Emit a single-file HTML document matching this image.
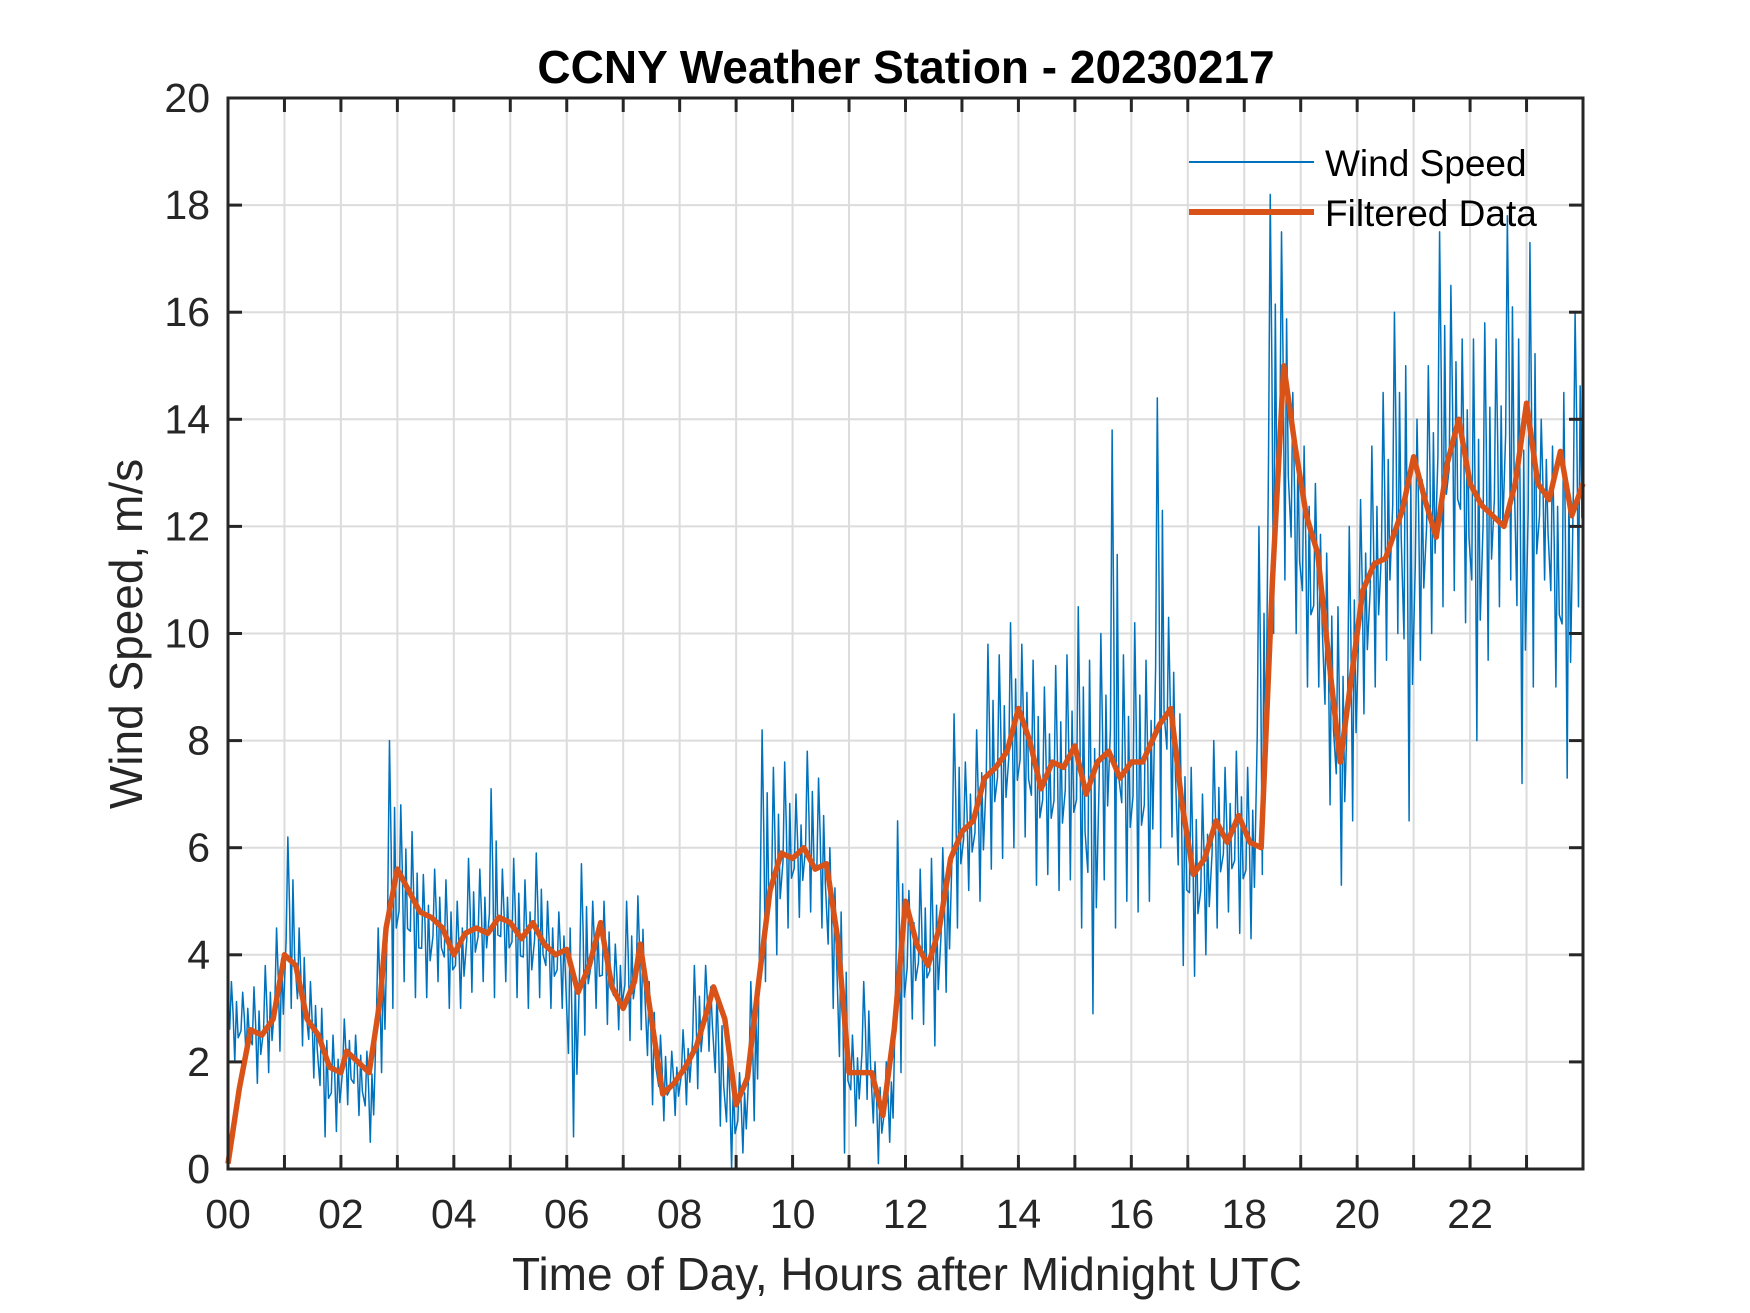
<!DOCTYPE html>
<html><head><meta charset="utf-8"><style>
html,body{margin:0;padding:0;background:#fff}
svg{display:block}
text{font-family:"Liberation Sans",Arial,sans-serif;fill:#262626}
</style></head><body>
<svg id="chart" width="1750" height="1313" viewBox="0 0 1750 1313" xmlns="http://www.w3.org/2000/svg">
<rect width="1750" height="1313" fill="#fff"/>
<g id="grid"></g>
<g id="series"></g>
<g id="axes"></g>
<text x="906" y="83" text-anchor="middle" font-size="46" font-weight="bold" style="fill:#000">CCNY Weather Station - 20230217</text>
<text x="907" y="1290" text-anchor="middle" font-size="46">Time of Day, Hours after Midnight UTC</text>
<text transform="translate(142,634) rotate(-90)" text-anchor="middle" font-size="46">Wind Speed, m/s</text>
<g>
<line x1="1189" y1="162" x2="1314" y2="162" stroke="#0072BD" stroke-width="2"/>
<text x="1325" y="176" font-size="37" style="fill:#000">Wind Speed</text>
<line x1="1189" y1="212" x2="1314" y2="212" stroke="#D95319" stroke-width="6"/>
<text x="1325" y="226" font-size="37" style="fill:#000">Filtered Data</text>
</g>
</svg>
<script>
const xTicks = [0,2,4,6,8,10,12,14,16,18,20,22];
const xTickLabels = ["00","02","04","06","08","10","12","14","16","18","20","22"];
const yTicks = [0,2,4,6,8,10,12,14,16,18,20];
const binStart = 0, binWidth = 0.2;
const windHigh = [3.5,3.3,3.4,3.8,4.5,6.2,4.5,3.5,3.0,2.5,2.8,2.5,2.2,4.5,8.0,6.8,6.3,5.5,5.6,5.4,5.0,5.8,5.6,7.1,5.6,5.8,5.4,5.9,5.0,4.8,4.5,5.7,5.0,5.0,4.2,5.0,5.1,3.5,2.5,2.2,2.6,3.8,3.8,3.3,2.2,1.8,3.5,8.2,7.5,7.6,7.0,7.8,7.3,6.0,4.8,2.5,3.5,2.0,2.0,6.5,5.2,5.6,5.8,6.0,8.5,7.6,8.2,9.8,9.6,10.2,9.8,9.5,9.0,9.4,9.6,10.5,9.5,10.0,13.8,9.6,10.2,9.5,14.4,10.3,8.5,7.5,7.0,8.0,7.5,7.8,7.5,12.0,18.2,17.5,14.5,13.5,12.8,11.5,10.5,12.0,12.5,13.5,14.5,16.0,15.0,14.0,15.0,17.5,16.5,15.5,15.5,15.8,15.5,17.8,15.5,17.3,14.0,13.5,14.5,16.0];
const windLow = [2.0,2.1,1.6,1.8,2.2,3.0,2.3,1.7,0.6,0.7,1.2,1.0,0.5,1.8,3.0,3.5,3.2,3.2,3.5,3.0,3.0,3.3,3.5,3.2,3.5,3.2,3.0,3.2,3.0,3.0,0.6,2.5,3.0,2.7,2.6,2.4,2.6,1.2,0.9,1.0,1.2,1.5,2.2,0.8,0.0,0.3,0.9,3.5,4.0,4.5,4.7,4.8,4.5,3.0,0.3,0.8,1.3,0.1,0.5,1.8,2.8,2.7,2.3,3.3,4.5,5.2,5.0,5.6,5.8,6.0,6.2,5.3,5.5,5.2,5.4,4.5,2.9,5.4,4.5,5.0,4.8,5.0,6.0,6.2,3.8,3.6,4.0,4.5,4.8,4.4,4.3,5.5,10.0,11.0,10.0,9.0,9.0,6.8,5.3,6.5,8.5,9.0,9.5,10.0,6.5,9.5,10.0,10.5,10.8,10.2,8.0,9.5,10.5,11.0,7.2,9.0,11.0,9.0,7.3,10.5];
const filtT = [0,0.2,0.4,0.6,0.8,1.0,1.2,1.4,1.6,1.8,2.0,2.1,2.3,2.5,2.7,2.8,3.0,3.2,3.4,3.6,3.8,4.0,4.2,4.4,4.6,4.8,5.0,5.2,5.4,5.6,5.8,6.0,6.2,6.4,6.6,6.8,7.0,7.2,7.3,7.5,7.7,7.9,8.1,8.3,8.5,8.6,8.8,9.0,9.2,9.4,9.6,9.8,10.0,10.2,10.4,10.6,10.8,11.0,11.2,11.4,11.6,11.8,12.0,12.2,12.4,12.6,12.8,13.0,13.2,13.4,13.6,13.8,14.0,14.2,14.4,14.6,14.8,15.0,15.2,15.4,15.6,15.8,16.0,16.2,16.5,16.7,16.9,17.1,17.3,17.5,17.7,17.9,18.1,18.3,18.5,18.7,18.9,19.1,19.3,19.5,19.7,19.9,20.1,20.3,20.5,20.8,21.0,21.2,21.4,21.6,21.8,22.0,22.2,22.4,22.6,22.8,23.0,23.2,23.4,23.6,23.8,24.0];
const filtV = [0.1,1.5,2.6,2.5,2.8,4.0,3.8,2.8,2.5,1.9,1.8,2.2,2.0,1.8,3.2,4.5,5.6,5.2,4.8,4.7,4.5,4.0,4.4,4.5,4.4,4.7,4.6,4.3,4.6,4.2,4.0,4.1,3.3,3.8,4.6,3.4,3.0,3.5,4.2,2.8,1.4,1.6,1.9,2.3,3.0,3.4,2.8,1.2,1.7,3.5,5.2,5.9,5.8,6.0,5.6,5.7,4.3,1.8,1.8,1.8,1.0,2.6,5.0,4.2,3.8,4.5,5.8,6.3,6.5,7.3,7.5,7.8,8.6,8.0,7.1,7.6,7.5,7.9,7.0,7.6,7.8,7.3,7.6,7.6,8.3,8.6,6.8,5.5,5.8,6.5,6.1,6.6,6.1,6.0,11.0,15.0,13.5,12.2,11.5,9.5,7.6,9.2,10.8,11.3,11.4,12.3,13.3,12.5,11.8,13.2,14.0,12.8,12.4,12.2,12.0,12.8,14.3,12.8,12.5,13.4,12.2,12.8];

const X0=228,X1=1583,Y0=1169,Y1=98;
const xs = h => X0 + (h/24)*(X1-X0);
const ys = v => Y0 - (v/20)*(Y0-Y1);
const NS="http://www.w3.org/2000/svg";
function mk(tag, attrs, parent){const e=document.createElementNS(NS,tag);for(const k in attrs)e.setAttribute(k,attrs[k]);parent.appendChild(e);return e;}
const grid=document.getElementById('grid'), axes=document.getElementById('axes'), series=document.getElementById('series');
for(let h=1;h<24;h++){
  const g=mk('line',{x1:xs(h),x2:xs(h),y1:Y1,y2:Y0,stroke:'#dcdcdc','stroke-width':2},grid);
  
  
  const t1=mk('line',{x1:xs(h),x2:xs(h),y1:Y0,y2:Y0-14,stroke:'#262626','stroke-width':3},axes);
  
  
  const t2=mk('line',{x1:xs(h),x2:xs(h),y1:Y1,y2:Y1+14,stroke:'#262626','stroke-width':3},axes);
  
  
}
yTicks.forEach(v=>{
  if(v>0&&v<20){
    const g=mk('line',{x1:X0,x2:X1,y1:ys(v),y2:ys(v),stroke:'#dcdcdc','stroke-width':2},grid);
    
    
    const t1=mk('line',{x1:X0,x2:X0+14,y1:ys(v),y2:ys(v),stroke:'#262626','stroke-width':3},axes);
    
    
    const t2=mk('line',{x1:X1,x2:X1-14,y1:ys(v),y2:ys(v),stroke:'#262626','stroke-width':3},axes);
    
    
  }
  const l=mk('text',{x:210,y:ys(v)+14,'text-anchor':'end','font-size':41},axes);
  l.textContent=String(v);
  
  
});
xTicks.forEach((h,i)=>{
  const l=mk('text',{x:xs(h),y:1228,'text-anchor':'middle','font-size':41},axes);
  l.textContent=xTickLabels[i];
  
  
});
const frame=mk('rect',{x:X0,y:Y1,width:X1-X0,height:Y0-Y1,fill:'none',stroke:'#262626','stroke-width':3},axes);



let pts=[];
for(let i=0;i<windHigh.length;i++){
  const t=binStart+i*binWidth, hi=windHigh[i], lo=windLow[i];
  pts.push([xs(t+0.03),ys(lo*0.6+hi*0.4)]);
  pts.push([xs(t+0.06),ys(hi)]);
  pts.push([xs(t+0.09),ys(lo*0.4+hi*0.6)]);
  pts.push([xs(t+0.12),ys(lo)]);
  pts.push([xs(t+0.15),ys(hi*0.75+lo*0.25)]);
  pts.push([xs(t+0.18),ys(lo*0.7+hi*0.3)]);
}
const raw=mk('polyline',{points:pts.map(p=>p.join(',')).join(' '),fill:'none',stroke:'#0072BD','stroke-width':1.5,'stroke-linejoin':'round'},series);


const fp=filtT.map((t,i)=>xs(t)+','+ys(filtV[i])).join(' ');
const fl=mk('polyline',{points:fp,fill:'none',stroke:'#D95319','stroke-width':5.5,'stroke-linejoin':'round'},series);


</script>
</body></html>
